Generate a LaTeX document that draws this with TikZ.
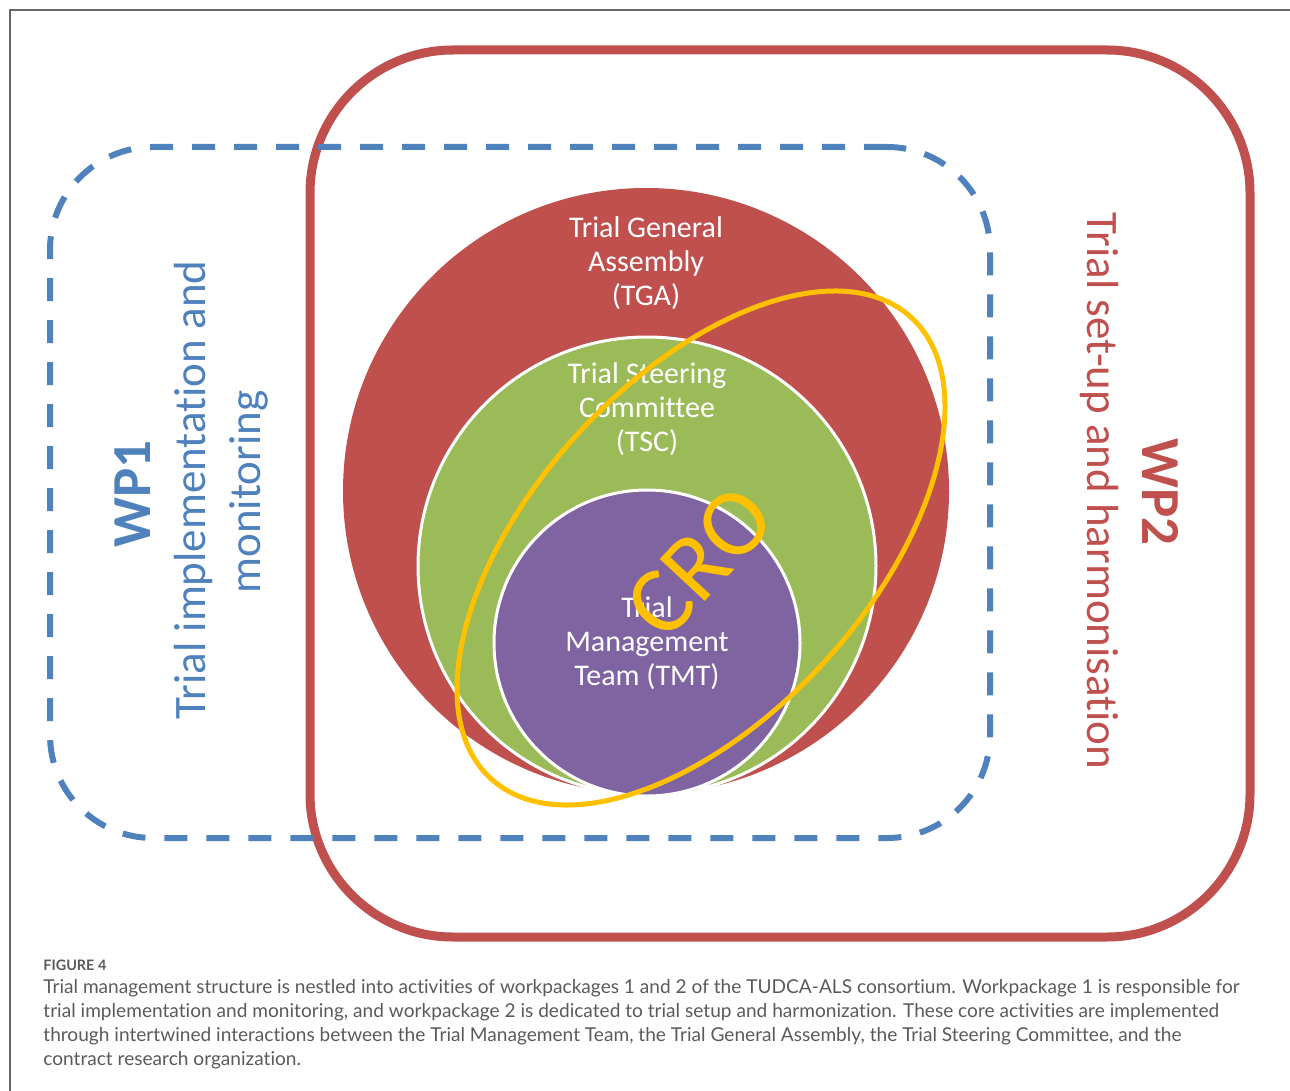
\documentclass[tikz,border=0pt]{standalone}
\usepackage{fontspec}
\setmainfont{Carlito}[Ligatures=CommonOff]
\newfontfamily\capfont{Lato}[Ligatures=CommonOff]
\usetikzlibrary{shapes.geometric,positioning}

\definecolor{wpred}{HTML}{C0504D}
\definecolor{wpblue}{HTML}{4F81BD}
\definecolor{tscgreen}{HTML}{9BBB59}
\definecolor{tmtpurple}{HTML}{8064A2}
\definecolor{croyellow}{HTML}{FFC000}
\definecolor{capgray}{HTML}{5A5A5A}

\tikzset{
  circ/.style={circle, inner sep=0pt},
  circtext/.style={text=white, align=center, inner sep=0pt, font=\fontsize{15}{17}\selectfont},
  wphead/.style={rotate=#1, anchor=base, inner sep=0pt, font=\fontsize{27.5}{33}\selectfont\bfseries},
  wpsub/.style={rotate=#1, anchor=base, inner sep=0pt, font=\fontsize{22.5}{27}\selectfont},
  capline/.style={anchor=base west, inner sep=0pt, text=capgray, font=\capfont\fontsize{9.55}{12}\selectfont},
}

\begin{document}
\begin{tikzpicture}[x=0.5pt, y=-0.5pt]
\useasboundingbox (0,0) rectangle (1290,1091);
\draw [line width=0.75pt, black!60] (10,1091) -- (10,10) -- (1290,10);

% work packages
\node (wp2_box) at (780,493.5) [draw=wpred, line width=4.5pt, rounded corners=71.5pt, minimum width=470pt, minimum height=443.5pt] {};
\node (wp1_box) at (520,492.5) [draw=wpblue, line width=3pt, dash pattern=on 11.5pt off 9.5pt, rounded corners=51.5pt, minimum width=470pt, minimum height=345.5pt] {};

% nested bodies
\node (tga) at (646,491) [circ, fill=wpred, minimum size=303pt] {};
\node (tsc) at (647,566) [circ, fill=tscgreen, draw=white, line width=1.5pt, minimum size=229pt] {};
\node (tmt) at (647,643) [circ, fill=tmtpurple, draw=white, line width=1.5pt, minimum size=153pt] {};

\node (tga_txt) at (tga.north) [circtext, below=14.5pt] {Trial General\\Assembly\\(TGA)};
\node (tsc_txt) at (tsc.north) [circtext, below=13.5pt] {Trial Steering\\Committee\\(TSC)};
\node (tmt_txt) at (tmt.north) [circtext, below=54pt] {Trial\\Management\\Team (TMT)};

\node (wp1_lbl) at (150,494) [wphead=90, text=wpblue] {WP1};
\node (wp1_sub1) at (205,490) [wpsub=90, text=wpblue] {Trial implementation and};
\node (wp1_sub2) at (260,492) [wpsub=90, text=wpblue] {monitoring};
\node (wp2_lbl) at (1142,492) [wphead=-90, text=wpred] {WP2};
\node (wp2_sub) at (1087,491) [wpsub=-90, text=wpred] {Trial set-up and harmonisation};

% CRO
\node (cro) at (701,548) [ellipse, draw=croyellow, line width=2.5pt, minimum width=312pt, minimum height=168pt, rotate=47.7] {};
\node (cro_lbl) at (700,562) [rotate=47, text=croyellow, inner sep=0pt, font=\fontsize{48}{58}\selectfont] {CRO};

% caption
\node (cap_head) at (43,970) [capline, font=\capfont\fontsize{7.2}{9}\selectfont\bfseries] {FIGURE 4};
\node (cap_l1) at (43,993) [capline] {Trial management structure is nestled into activities of workpackages 1 and 2 of the TUDCA-ALS consortium. Workpackage 1 is responsible for};
\node (cap_l2) at (43,1017) [capline] {trial implementation and monitoring, and workpackage 2 is dedicated to trial setup and harmonization. These core activities are implemented};
\node (cap_l3) at (43,1041) [capline] {through intertwined interactions between the Trial Management Team, the Trial General Assembly, the Trial Steering Committee, and the};
\node (cap_l4) at (43,1065) [capline] {contract research organization.};
\end{tikzpicture}
\end{document}
